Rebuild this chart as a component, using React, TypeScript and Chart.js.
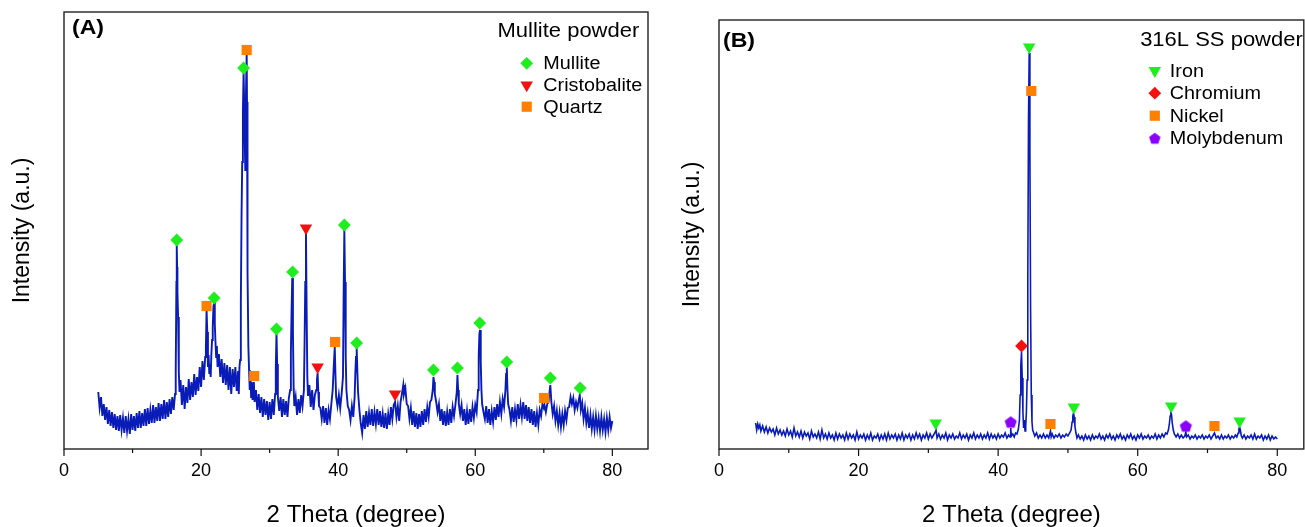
import React, { useEffect, useRef } from 'react';
import { Chart, registerables } from 'chart.js';
import { drawPoint } from 'chart.js/helpers';

Chart.register(...registerables);

type Pt = [number, number];

// ---------- Panel A : Mullite powder (2θ, intensity a.u.) ----------
const mulliteScan: Pt[] = [
  [5.0,60],[5.2,44],[5.4,55],[5.6,36],[5.8,48],[6.0,32],[6.2,45],[6.4,28],[6.6,42],[6.8,26],
  [7.0,40],[7.2,24],[7.4,38],[7.6,22],[7.8,36],[8.0,21],[8.2,37],[8.4,22],[8.6,34],[8.8,19],
  [9.0,36],[9.2,21],[9.4,33],[9.6,18],[9.8,38],[10.0,22],[10.2,36],[10.4,21],[10.6,39],[10.8,24],
  [11.0,41],[11.2,24],[11.4,39],[11.6,26],[11.8,43],[12.0,26],[12.2,44],[12.4,28],[12.6,42],[12.8,29],
  [13.0,47],[13.2,29],[13.4,45],[13.6,31],[13.8,49],[14.0,31],[14.2,48],[14.4,33],[14.6,52],[14.8,33],
  [15.0,50],[15.2,35],[15.4,53],[15.6,38],[15.8,55],[16.0,42],[16.2,58],[16.3,80],[16.4,170],[16.45,207],
  [16.5,185],[16.55,160],[16.65,135],[16.75,80],[16.85,60],[17.0,72],[17.2,47],[17.4,67],[17.6,43],[17.8,65],
  [18.0,49],[18.2,73],[18.4,52],[18.6,70],[18.8,55],[19.0,78],[19.2,57],[19.4,75],[19.6,61],[19.8,85],
  [20.0,65],[20.2,91],[20.4,72],[20.6,95],[20.7,105],[20.8,142],[20.9,120],[21.0,85],[21.1,97],[21.2,78],
  [21.3,88],[21.4,75],[21.5,98],[21.6,112],[21.7,125],[21.8,145],[21.9,150],[22.0,128],[22.1,110],[22.2,95],
  [22.3,106],[22.4,85],[22.6,98],[22.8,75],[23.0,93],[23.2,69],[23.4,89],[23.6,67],[23.8,87],[24.0,62],
  [24.2,85],[24.4,58],[24.6,83],[24.8,65],[25.0,85],[25.2,61],[25.4,81],[25.5,58],[25.6,85],[25.7,92],
  [25.8,150],[25.9,235],[26.0,290],[26.1,340],[26.2,380],[26.3,345],[26.4,300],[26.45,282],[26.55,360],[26.65,399],
  [26.7,350],[26.75,260],[26.8,180],[26.9,105],[27.0,82],[27.1,62],[27.2,74],[27.3,55],[27.4,70],[27.5,52],
  [27.6,68],[27.7,70],[27.8,50],[28.0,62],[28.2,42],[28.4,58],[28.6,39],[28.8,55],[29.0,35],[29.2,53],
  [29.4,37],[29.6,51],[29.8,32],[30.0,50],[30.2,33],[30.4,53],[30.6,37],[30.8,58],[30.9,85],[31.0,119],
  [31.1,88],[31.2,55],[31.4,41],[31.6,55],[31.8,35],[32.0,53],[32.2,37],[32.4,51],[32.6,35],[32.8,54],
  [33.0,62],[33.1,100],[33.2,140],[33.3,174],[33.4,120],[33.5,65],[33.6,46],[33.8,55],[34.0,37],[34.2,53],
  [34.4,39],[34.6,57],[34.8,46],[35.0,62],[35.1,110],[35.2,170],[35.3,219],[35.4,140],[35.5,75],[35.6,56],
  [35.8,67],[36.0,45],[36.2,62],[36.4,42],[36.6,57],[36.8,62],[36.9,72],[37.0,79],[37.1,60],[37.2,46],
  [37.4,44],[37.6,33],[37.8,46],[38.0,29],[38.2,44],[38.4,27],[38.6,42],[38.8,33],[39.0,48],[39.2,62],
  [39.35,85],[39.5,105],[39.6,78],[39.7,55],[39.9,46],[40.1,57],[40.3,44],[40.5,58],[40.7,75],[40.8,160],
  [40.9,222],[41.0,170],[41.1,95],[41.2,62],[41.4,46],[41.6,42],[41.8,32],[42.0,46],[42.2,35],[42.4,55],
  [42.5,78],[42.6,95],[42.7,104],[42.8,80],[42.9,60],[43.1,42],[43.3,28],[43.5,19],[43.7,37],[43.9,23],
  [44.1,41],[44.3,25],[44.5,39],[44.7,27],[44.9,43],[45.1,26],[45.3,40],[45.5,28],[45.7,43],[45.9,27],
  [46.1,41],[46.3,25],[46.5,38],[46.7,24],[46.9,39],[47.1,23],[47.3,38],[47.5,27],[47.7,45],[47.9,33],
  [48.1,47],[48.3,50],[48.5,35],[48.7,46],[48.9,31],[49.1,50],[49.3,58],[49.5,67],[49.6,58],[49.8,64],
  [50.0,48],[50.2,46],[50.4,33],[50.6,44],[50.8,27],[51.0,41],[51.2,25],[51.4,39],[51.6,23],[51.8,38],
  [52.0,25],[52.2,41],[52.4,27],[52.6,43],[52.8,30],[53.0,45],[53.2,35],[53.4,50],[53.6,52],[53.8,62],
  [53.9,75],[54.0,70],[54.1,58],[54.3,50],[54.5,40],[54.7,48],[54.9,31],[55.1,43],[55.3,27],[55.5,41],
  [55.7,26],[55.9,40],[56.1,27],[56.3,43],[56.5,29],[56.7,45],[56.9,36],[57.1,47],[57.3,60],[57.4,77],
  [57.5,62],[57.6,48],[57.8,38],[58.0,47],[58.2,31],[58.4,43],[58.6,27],[58.8,41],[59.0,28],[59.2,43],
  [59.4,30],[59.6,45],[59.8,34],[60.0,47],[60.2,40],[60.4,62],[60.5,95],[60.6,118],[60.7,122],[60.8,90],
  [60.9,62],[61.0,48],[61.2,40],[61.4,33],[61.6,46],[61.8,29],[62.0,43],[62.2,27],[62.4,41],[62.6,30],
  [62.8,45],[63.0,32],[63.2,48],[63.4,35],[63.6,50],[63.8,38],[64.0,53],[64.2,45],[64.4,62],[64.5,78],
  [64.6,85],[64.7,62],[64.8,48],[65.0,42],[65.2,31],[65.4,45],[65.6,30],[65.8,43],[66.0,32],[66.2,48],
  [66.4,33],[66.6,47],[66.8,35],[67.0,50],[67.2,33],[67.4,47],[67.6,31],[67.8,45],[68.0,29],[68.2,43],
  [68.4,27],[68.6,41],[68.8,25],[69.0,39],[69.2,27],[69.4,42],[69.6,36],[69.8,48],[70.0,44],[70.1,47],
  [70.3,40],[70.5,48],[70.7,50],[70.8,58],[70.95,67],[71.1,50],[71.3,38],[71.5,46],[71.7,31],[71.9,41],
  [72.1,27],[72.3,39],[72.5,25],[72.7,38],[72.9,27],[73.1,41],[73.3,32],[73.5,44],[73.7,45],[73.9,55],
  [74.1,48],[74.3,54],[74.5,42],[74.7,50],[74.9,44],[75.1,52],[75.25,57],[75.4,42],[75.6,49],[75.8,33],
  [76.0,44],[76.2,29],[76.4,39],[76.6,24],[76.8,37],[77.0,23],[77.2,35],[77.4,22],[77.6,36],[77.8,23],
  [78.0,34],[78.2,21],[78.4,35],[78.6,22],[78.8,33],[79.0,20],[79.2,34],[79.4,22],[79.6,35],[79.8,24],
  [80.0,31],
];
const mulliteMarks: Pt[] = [
  [16.45,212],[21.9,154],[26.2,384],[31.0,123],[33.35,180],[40.9,227],[42.7,109],
  [53.9,82],[57.4,84],[60.65,129],[64.6,90],[70.95,74],[75.3,64],
];
const cristobaliteMarks: Pt[] = [[35.3,224],[37.0,85],[48.3,58]];
const quartzMarks: Pt[] = [[20.8,146],[26.65,402],[27.75,76],[39.55,110],[70.05,54]];

// ---------- Panel B : 316L SS powder ----------
const steelScan: Pt[] = [
  [5.25,27],[5.4,20],[5.55,26],[5.7,22],[5.85,25],[6.0,19],[6.25,24],[6.5,18],[6.75,23],[7.0,17],
  [7.25,22],[7.5,18],[7.75,21],[8.0,15],[8.25,22],[8.5,16],[8.75,20],[9.0,15],[9.25,19],[9.5,14],
  [9.75,21],[10.0,15],[10.25,19],[10.5,13],[10.75,22],[11.0,14],[11.25,18],[11.5,13],[11.75,19],[12.0,12],
  [12.25,18],[12.5,14],[12.75,17],[13.0,11],[13.25,19],[13.5,13],[13.75,16],[14.0,12],[14.25,18],[14.5,11],
  [14.75,20],[15.0,12],[15.25,16],[15.5,11],[15.75,17],[16.0,12],[16.25,15],[16.5,10],[16.75,17],[17.0,11],
  [17.25,16],[17.5,12],[17.75,15],[18.0,10],[18.25,17],[18.5,11],[18.75,16],[19.0,12],[19.25,15],[19.5,10],
  [19.75,18],[20.0,11],[20.25,15],[20.5,12],[20.75,16],[21.0,10],[21.25,15],[21.5,11],[21.75,17],[22.0,10],
  [22.25,14],[22.5,12],[22.75,16],[23.0,10],[23.25,15],[23.5,11],[23.75,16],[24.0,10],[24.25,17],[24.5,11],
  [24.75,15],[25.0,12],[25.25,16],[25.5,10],[25.75,15],[26.0,11],[26.25,17],[26.5,10],[26.75,15],[27.0,12],
  [27.25,16],[27.5,10],[27.75,15],[28.0,11],[28.25,17],[28.5,12],[28.75,16],[29.0,10],[29.25,15],[29.5,12],
  [29.75,17],[30.0,11],[30.25,16],[30.5,12],[30.75,15],[31.0,18],[31.1,20],[31.25,12],[31.5,16],[31.75,11],
  [32.0,15],[32.25,12],[32.5,17],[32.75,10],[33.0,15],[33.25,12],[33.5,16],[33.75,11],[34.0,14],[34.25,12],
  [34.5,17],[34.75,11],[35.0,15],[35.25,12],[35.5,16],[35.75,10],[36.0,15],[36.25,12],[36.5,17],[36.75,11],
  [37.0,15],[37.25,12],[37.5,16],[37.75,11],[38.0,15],[38.25,12],[38.5,17],[38.75,11],[39.0,16],[39.25,12],
  [39.5,15],[39.75,11],[40.0,16],[40.25,12],[40.5,15],[40.75,13],[41.0,17],[41.25,12],[41.5,15],[41.7,13],
  [41.8,22],[41.9,14],[42.1,16],[42.3,13],[42.5,17],[42.7,16],[42.9,21],[43.05,30],[43.15,55],[43.25,85],
  [43.35,98],[43.45,72],[43.55,38],[43.65,22],[43.75,30],[43.85,19],[43.95,24],[44.05,38],[44.15,70],[44.25,170],
  [44.35,330],[44.45,397],[44.55,300],[44.65,140],[44.75,55],[44.85,28],[44.95,20],[45.1,17],[45.25,14],[45.5,17],
  [45.75,12],[46.0,15],[46.25,12],[46.5,16],[46.75,12],[47.0,15],[47.25,12],[47.5,19],[47.6,13],[47.75,16],
  [48.0,12],[48.25,15],[48.5,13],[48.75,16],[49.0,12],[49.25,15],[49.5,13],[49.75,16],[50.0,14],[50.25,17],
  [50.45,20],[50.6,28],[50.7,34],[50.8,37],[50.9,33],[51.0,24],[51.15,17],[51.3,12],[51.5,15],[51.75,11],
  [52.0,14],[52.25,10],[52.5,15],[52.75,11],[53.0,14],[53.25,10],[53.5,15],[53.75,11],[54.0,14],[54.25,12],
  [54.5,16],[54.75,11],[55.0,14],[55.25,10],[55.5,15],[55.75,12],[56.0,16],[56.25,11],[56.5,14],[56.75,10],
  [57.0,15],[57.25,12],[57.5,16],[57.75,11],[58.0,14],[58.25,10],[58.5,15],[58.75,12],[59.0,16],[59.25,11],
  [59.5,14],[59.75,10],[60.0,15],[60.25,12],[60.5,16],[60.75,11],[61.0,14],[61.25,12],[61.5,15],[61.75,11],
  [62.0,14],[62.25,12],[62.5,16],[62.75,11],[63.0,15],[63.25,12],[63.5,16],[63.75,13],[64.0,17],[64.2,16],
  [64.4,20],[64.55,27],[64.65,34],[64.75,38],[64.85,35],[64.95,27],[65.1,20],[65.25,16],[65.5,13],[65.75,16],
  [66.0,12],[66.25,15],[66.5,12],[66.75,14],[66.9,18],[67.0,13],[67.25,15],[67.5,11],[67.75,14],[68.0,12],
  [68.25,15],[68.5,11],[68.75,14],[69.0,12],[69.25,15],[69.5,11],[69.75,14],[70.0,12],[70.25,15],[70.5,11],
  [70.75,14],[71.0,17],[71.25,12],[71.5,14],[71.75,11],[72.0,15],[72.25,11],[72.5,14],[72.75,12],[73.0,15],
  [73.25,11],[73.5,14],[73.75,12],[74.0,15],[74.2,13],[74.4,17],[74.5,21],[74.6,23],[74.7,20],[74.85,14],
  [75.0,12],[75.25,15],[75.5,11],[75.75,14],[76.0,12],[76.25,15],[76.5,11],[76.75,16],[77.0,11],[77.25,14],
  [77.5,12],[77.75,15],[78.0,10],[78.25,14],[78.5,11],[78.75,15],[79.0,10],[79.25,14],[79.5,11],[79.75,13],
  [80.0,11],
];
const ironMarks: Pt[] = [[31.05,27],[44.45,403],[50.85,43],[64.8,44],[74.6,29]];
const chromiumMarks: Pt[] = [[43.35,104]];
const nickelMarks: Pt[] = [[44.75,359],[47.5,26],[71.0,24]];
const molybdenumMarks: Pt[] = [[41.8,28],[66.9,24]];

const xMajorTicks = [0, 20, 40, 60, 80];
const xMinorTicks = [10, 30, 50, 70];

// ---------- styling ----------
const FONT = '"Liberation Sans", Arial, Helvetica, sans-serif';
const TEXT_STRETCH = 1.1;
const LINE_BLUE = '#0a1cb8';
const GREEN = '#1eee1e';
const RED = '#f51010';
const ORANGE = '#ff7f00';
const PURPLE = '#8a00ff';

function makePentagon(color: string, r: number): HTMLCanvasElement {
  const size = Math.ceil(r * 2 + 2);
  const c = document.createElement('canvas');
  c.width = size;
  c.height = size;
  const ctx = c.getContext('2d')!;
  const cx = size / 2;
  const cy = size / 2 + r * 0.1;
  ctx.beginPath();
  for (let i = 0; i < 5; i++) {
    const a = -Math.PI / 2 + (i * 2 * Math.PI) / 5;
    const px = cx + Math.cos(a) * r;
    const py = cy + Math.sin(a) * r;
    if (i === 0) ctx.moveTo(px, py);
    else ctx.lineTo(px, py);
  }
  ctx.closePath();
  ctx.fillStyle = color;
  ctx.fill();
  return c;
}

interface Phase {
  label: string;
  points: Pt[];
  color: string;
  pointStyle: any;
  legendStyle: any;
  radius: number;
  rotation: number;
}

interface Panel {
  tag: string;
  title: string;
  scan: Pt[];
  phases: Phase[];
  yMin: number;
  yMax: number;
  xMax: number;
  canvasW: number;
  yAxisW: number;
  padTop: number;
  padRight: number;
  yTitlePad: number;
  lineW: number;
  tagDx: number;
  tagDy: number;
  titleDx: number;
  titleDy: number;
  markerDx: number;
  textDx: number;
  rowStart: number;
  rowGap: number;
}

function stretchedText(ctx: CanvasRenderingContext2D, text: string, x: number, y: number, align: CanvasTextAlign) {
  ctx.save();
  ctx.translate(x, y);
  ctx.scale(TEXT_STRETCH, 1);
  ctx.textAlign = align;
  ctx.fillText(text, 0, 0);
  ctx.restore();
}

function decorPlugin(p: Panel) {
  return {
    id: 'xrdDecor',
    afterDraw(chart: any) {
      const { ctx, chartArea } = chart;
      const { left, right, top, bottom } = chartArea;
      const xs = chart.scales.x;
      ctx.save();
      // frame
      ctx.strokeStyle = '#222';
      ctx.lineWidth = 1.4;
      ctx.strokeRect(left, top, right - left, bottom - top);
      // ticks
      ctx.lineWidth = 1.2;
      ctx.strokeStyle = '#111';
      ctx.beginPath();
      for (const v of xMajorTicks) {
        const px = xs.getPixelForValue(v);
        ctx.moveTo(px, bottom);
        ctx.lineTo(px, bottom + 7);
      }
      for (const v of xMinorTicks) {
        const px = xs.getPixelForValue(v);
        ctx.moveTo(px, bottom);
        ctx.lineTo(px, bottom + 4);
      }
      ctx.stroke();
      // panel tag
      ctx.fillStyle = '#000';
      ctx.textBaseline = 'middle';
      ctx.font = `bold 21px ${FONT}`;
      stretchedText(ctx, p.tag, left + p.tagDx, top + p.tagDy, 'left');
      // legend title
      ctx.font = `20px ${FONT}`;
      stretchedText(ctx, p.title, right - p.titleDx, top + p.titleDy, 'right');
      // legend entries
      ctx.font = `18px ${FONT}`;
      p.phases.forEach((ph, i) => {
        const y = top + p.rowStart + i * p.rowGap;
        ctx.fillStyle = ph.color;
        drawPoint(ctx, { pointStyle: ph.legendStyle, radius: ph.radius, rotation: ph.rotation, borderWidth: 0 } as any, right - p.markerDx, y);
        ctx.fillStyle = '#000';
        stretchedText(ctx, ph.label, right - p.textDx, y + 1, 'left');
      });
      ctx.restore();
    },
  };
}

function buildConfig(p: Panel): any {
  const datasets: any[] = [
    {
      label: 'scan',
      data: p.scan,
      showLine: true,
      borderColor: LINE_BLUE,
      borderWidth: p.lineW,
      pointRadius: 0,
      tension: 0,
      order: 10,
    },
    ...p.phases.map((ph) => ({
      label: ph.label,
      data: ph.points,
      showLine: false,
      backgroundColor: ph.color,
      pointBackgroundColor: ph.color,
      pointBorderWidth: 0,
      borderWidth: 0,
      pointStyle: ph.pointStyle,
      pointRadius: ph.radius,
      pointRotation: ph.rotation,
      order: 1,
    })),
  ];
  return {
    type: 'scatter',
    data: { datasets },
    options: {
      responsive: false,
      animation: false,
      events: [],
      layout: { padding: { left: 0, right: p.padRight, top: p.padTop, bottom: 0 } },
      plugins: { legend: { display: false }, tooltip: { enabled: false } },
      scales: {
        x: {
          type: 'linear',
          min: 0,
          max: p.xMax,
          afterBuildTicks: (s: any) => {
            s.ticks = xMajorTicks.map((v) => ({ value: v }));
          },
          afterFit: (s: any) => {
            s.height = 78;
            s.paddingLeft = 0;
            s.paddingRight = 0;
          },
          grid: { display: false, drawTicks: false },
          border: { display: false },
          ticks: {
            color: '#000',
            padding: 11,
            maxRotation: 0,
            autoSkip: false,
            font: { family: FONT, size: 18 },
          },
          title: {
            display: true,
            text: '2 Theta (degree)',
            color: '#000',
            font: { family: FONT, size: 24, lineHeight: 1 },
            padding: { top: 0, bottom: 0 },
          },
        },
        y: {
          type: 'linear',
          min: p.yMin,
          max: p.yMax,
          afterFit: (s: any) => {
            s.width = p.yAxisW;
          },
          grid: { display: false, drawTicks: false },
          border: { display: false },
          ticks: { display: false },
          title: {
            display: true,
            text: 'Intensity (a.u.)',
            color: '#000',
            font: { family: FONT, size: 23, lineHeight: 1 },
            padding: { top: p.yTitlePad, bottom: 0 },
          },
        },
      },
    },
    plugins: [decorPlugin(p)],
  };
}

function XrdPanel({ panel, left }: { panel: () => Panel; left: number }) {
  const ref = useRef<HTMLCanvasElement | null>(null);
  useEffect(() => {
    if (!ref.current) return;
    const p = panel();
    const chart = new Chart(ref.current, buildConfig(p));
    return () => chart.destroy();
  }, [panel]);
  const p0 = panel();
  return (
    <canvas
      ref={ref}
      width={p0.canvasW}
      height={527}
      style={{ position: 'absolute', left, top: 0, width: p0.canvasW, height: 527 }}
    />
  );
}

const panelA = (): Panel => ({
  tag: '(A)',
  title: 'Mullite powder',
  scan: mulliteScan,
  phases: [
    { label: 'Mullite', points: mulliteMarks, color: GREEN, pointStyle: 'rectRot', legendStyle: 'rectRot', radius: 6.4, rotation: 0 },
    { label: 'Cristobalite', points: cristobaliteMarks, color: RED, pointStyle: 'triangle', legendStyle: 'triangle', radius: 7.2, rotation: 180 },
    { label: 'Quartz', points: quartzMarks, color: ORANGE, pointStyle: 'rect', legendStyle: 'rect', radius: 7.2, rotation: 0 },
  ],
  yMin: 3,
  yMax: 440,
  xMax: 85.2,
  canvasW: 660,
  yAxisW: 64,
  padTop: 12,
  padRight: 12,
  yTitlePad: 11.5,
  lineW: 1.9,
  tagDx: 8,
  tagDy: 16,
  titleDx: 8.7,
  titleDy: 19.7,
  markerDx: 121.3,
  textDx: 104.7,
  rowStart: 51.3,
  rowGap: 21.7,
});

let pentaPlot: HTMLCanvasElement | null = null;
let pentaLegend: HTMLCanvasElement | null = null;

const panelB = (): Panel => {
  if (!pentaPlot) pentaPlot = makePentagon(PURPLE, 6.4);
  if (!pentaLegend) pentaLegend = makePentagon(PURPLE, 6.0);
  return {
    tag: '(B)',
    title: '316L SS powder',
    scan: steelScan,
    phases: [
      { label: 'Iron', points: ironMarks, color: GREEN, pointStyle: 'triangle', legendStyle: 'triangle', radius: 7.2, rotation: 180 },
      { label: 'Chromium', points: chromiumMarks, color: RED, pointStyle: 'rectRot', legendStyle: 'rectRot', radius: 6.4, rotation: 0 },
      { label: 'Nickel', points: nickelMarks, color: ORANGE, pointStyle: 'rect', legendStyle: 'rect', radius: 7.2, rotation: 0 },
      { label: 'Molybdenum', points: molybdenumMarks, color: PURPLE, pointStyle: pentaPlot, legendStyle: pentaLegend, radius: 6, rotation: 0 },
    ],
    yMin: 1,
    yMax: 430,
    xMax: 83.8,
    canvasW: 651,
    yAxisW: 59,
    padTop: 20,
    padRight: 1,
    yTitlePad: 21.5,
    lineW: 1.6,
    tagDx: 4,
    tagDy: 21,
    titleDx: 1,
    titleDy: 20,
    markerDx: 149,
    textDx: 134,
    rowStart: 50.7,
    rowGap: 22.5,
  };
};

export default function App() {
  return (
    <div style={{ position: 'absolute', left: 0, top: 0, width: 1305, height: 527, background: '#fff', overflow: 'hidden' }}>
      <XrdPanel panel={panelA} left={0} />
      <XrdPanel panel={panelB} left={660} />
    </div>
  );
}
